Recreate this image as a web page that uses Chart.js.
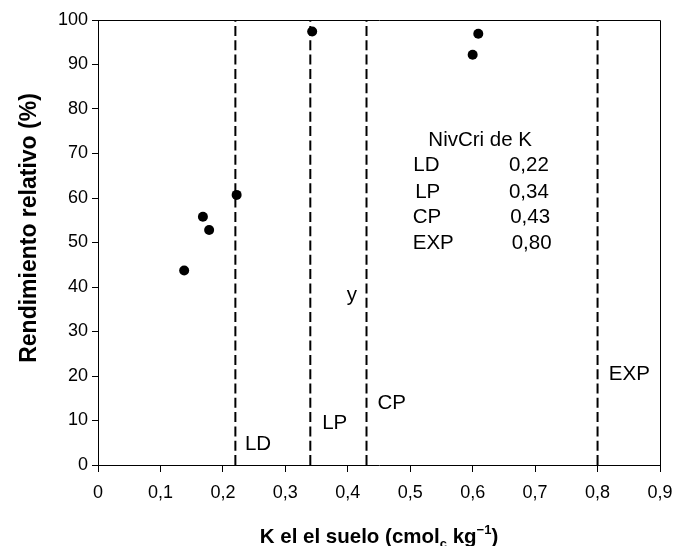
<!DOCTYPE html>
<html>
<head>
<meta charset="utf-8">
<script src="https://cdn.jsdelivr.net/npm/chart.js@4.4.1/dist/chart.umd.min.js"></script>
<style>
  html, body { margin: 0; padding: 0; background: #fff; }
  #wrap { width: 675px; height: 546px; }
</style>
</head>
<body>
<div id="wrap"><canvas id="c" width="675" height="546"></canvas></div>
<script>
// ---- data ----
const kSuelo = [0.138, 0.168, 0.178, 0.222, 0.343, 0.600, 0.609];
const rendimiento = [43.7, 55.8, 52.8, 60.7, 97.4, 92.2, 96.9];

const nivelNames = ['LD', 'LP', 'CP', 'EXP'];
const nivelValues = [0.22, 0.34, 0.43, 0.80];

const xTickLabels = ['0', '0,1', '0,2', '0,3', '0,4', '0,5', '0,6', '0,7', '0,8', '0,9'];
const yTickLabels = ['0', '10', '20', '30', '40', '50', '60', '70', '80', '90', '100'];

const annotTexts = ['NivCri de K', 'LD', '0,22', 'LP', '0,34', 'CP', '0,43', 'EXP', '0,80', 'y', 'LD', 'LP', 'CP', 'EXP'];
const annotX = [0.529, 0.505, 0.658, 0.508, 0.658, 0.504, 0.660, 0.504, 0.6625, 0.3985, 0.2353, 0.359, 0.4475, 0.818];
const annotY = [71.6, 66.0, 66.0, 60.0, 60.0, 54.4, 54.4, 48.5, 48.5, 36.8, 3.4, 8.1, 12.6, 19.2];

const yTitle = 'Rendimiento relativo (%)';
const FONT = "'Liberation Sans', Arial, sans-serif";

// ---- datasets ----
const datasets = [];
nivelValues.forEach((v, i) => {
  datasets.push({
    type: 'line',
    label: nivelNames[i],
    data: [{ x: v, y: 0 }, { x: v, y: 100 }],
    borderColor: '#000',
    borderWidth: 2,
    borderDash: [10, 4.3],
    pointRadius: 0,
    fill: false,
    order: 2
  });
});
datasets.push({
  type: 'scatter',
  label: 'Rendimiento',
  data: kSuelo.map((x, i) => ({ x: x, y: rendimiento[i] })),
  backgroundColor: '#000',
  borderColor: '#000',
  borderWidth: 0,
  pointRadius: 5,
  order: 1
});

// ---- plugins ----
const framePlugin = {
  id: 'frame',
  afterDraw(chart) {
    const a = chart.chartArea, ctx = chart.ctx;
    ctx.save();
    ctx.strokeStyle = '#000';
    ctx.lineWidth = 1;
    ctx.beginPath();
    ctx.moveTo(Math.round(a.left) + 0.5, Math.round(a.top) + 0.5);
    ctx.lineTo(Math.round(a.right) + 0.5, Math.round(a.top) + 0.5);
    ctx.lineTo(Math.round(a.right) + 0.5, Math.round(a.bottom) + 0.5);
    ctx.stroke();
    ctx.restore();
  }
};

const annotPlugin = {
  id: 'annot',
  afterDatasetsDraw(chart) {
    const ctx = chart.ctx, xs = chart.scales.x, ys = chart.scales.y;
    ctx.save();
    ctx.fillStyle = '#000';
    ctx.font = '20.5px ' + FONT;
    ctx.textAlign = 'left';
    ctx.textBaseline = 'alphabetic';
    annotTexts.forEach((t, i) => {
      ctx.fillText(t, xs.getPixelForValue(annotX[i]), ys.getPixelForValue(annotY[i]));
    });
    ctx.restore();
  }
};

const titlesPlugin = {
  id: 'titles',
  afterDraw(chart) {
    const ctx = chart.ctx, a = chart.chartArea;
    const parts = [
      { t: 'K el el suelo (cmol', s: 20.5, dy: 0 },
      { t: 'c', s: 13, dy: 5 },
      { t: ' kg', s: 20.5, dy: 0 },
      { t: '\u22121', s: 13, dy: -9 },
      { t: ')', s: 20.5, dy: 0 }
    ];
    ctx.save();
    ctx.fillStyle = '#000';
    ctx.textBaseline = 'alphabetic';
    ctx.textAlign = 'left';
    let total = 0;
    parts.forEach(p => { ctx.font = 'bold ' + p.s + 'px ' + FONT; p.w = ctx.measureText(p.t).width; total += p.w; });
    let x = (a.left + a.right) / 2 - total / 2;
    const base = 543;
    parts.forEach(p => {
      ctx.font = 'bold ' + p.s + 'px ' + FONT;
      ctx.fillText(p.t, x, base + p.dy);
      x += p.w;
    });
    // y title
    ctx.translate(30, 228);
    ctx.rotate(-Math.PI / 2);
    ctx.font = 'bold 23px ' + FONT;
    ctx.textAlign = 'center';
    ctx.textBaseline = 'middle';
    ctx.fillText(yTitle, 0, 0);
    ctx.restore();
  }
};

new Chart(document.getElementById('c'), {
  data: { datasets: datasets },
  options: {
    responsive: false,
    animation: false,
    events: [],
    layout: { padding: { top: 20, right: 15, left: 0, bottom: 0 } },
    plugins: { legend: { display: false }, tooltip: { enabled: false } },
    scales: {
      x: {
        type: 'linear',
        min: 0, max: 0.9,
        afterFit(s) { s.height = 81; s.paddingRight = 0; s.paddingLeft = 0; },
        afterBuildTicks(s) { s.ticks = xTickLabels.map((l, i) => ({ value: i / 10 })); },
        ticks: {
          color: '#000',
          font: { family: FONT, size: 18 },
          padding: 10,
          maxRotation: 0,
          callback: (v, i) => xTickLabels[i]
        },
        grid: { display: true, drawOnChartArea: false, drawTicks: true, tickLength: 7, color: '#000', lineWidth: 1 },
        border: { display: true, color: '#000', width: 1 }
      },
      y: {
        type: 'linear',
        min: 0, max: 100,
        afterFit(s) { s.width = 98; },
        afterBuildTicks(s) { s.ticks = yTickLabels.map((l, i) => ({ value: i * 10 })); },
        ticks: {
          color: '#000',
          font: { family: FONT, size: 18 },
          padding: 4,
          callback: (v, i) => yTickLabels[i]
        },
        grid: { display: true, drawOnChartArea: false, drawTicks: true, tickLength: 6, color: '#000', lineWidth: 1 },
        border: { display: true, color: '#000', width: 1 }
      }
    }
  },
  plugins: [framePlugin, annotPlugin, titlesPlugin]
});
</script>
</body>
</html>
